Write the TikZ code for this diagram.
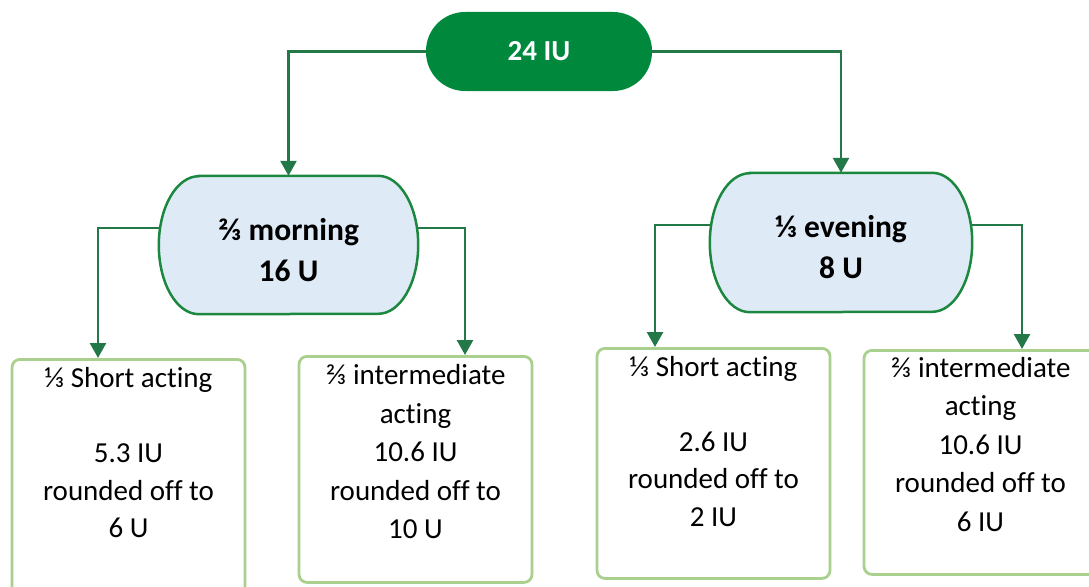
\documentclass[tikz,border=0pt]{standalone}
\usepackage{fontspec}
\setmainfont[Ligatures=CommonOff]{Carlito}
\usetikzlibrary{arrows.meta,calc,backgrounds}
\definecolor{topgreen}{RGB}{0,137,61}
\definecolor{arrgreen}{RGB}{35,120,72}
\definecolor{nodegreen}{RGB}{28,135,62}
\definecolor{lightblue}{RGB}{222,234,246}
\definecolor{boxgreen}{RGB}{169,208,142}
\tikzset{
  conn/.style={draw=arrgreen,line width=2.5pt,-{Triangle[width=16pt,length=15pt]}},
  topnode/.style={fill=topgreen,rounded corners=39pt,minimum width=226pt,minimum height=79pt,inner sep=0pt,text=white,font=\fontsize{29}{35}\selectfont\bfseries},
  midnode/.style={inner sep=0pt,align=center,font=\fontsize{31.5}{41.5}\selectfont\bfseries},
  midshape/.style={draw=nodegreen,line width=2.5pt,fill=lightblue},
  outbox/.style={draw=boxgreen,line width=2.8pt,rounded corners=8pt,inner sep=0pt},
  boxtext/.style={anchor=north,inner sep=0pt,align=center,font=\fontsize{29}{37.5}\selectfont},
  boxtextw/.style={anchor=north,inner sep=0pt,align=center,font=\fontsize{29}{38.5}\selectfont}
}
\begin{document}
\begin{tikzpicture}[x=1pt,y=-1pt]
\useasboundingbox (0,0) rectangle (1089,586);
\clip (0,0) rectangle (1089,586);
\node[topnode] (top) at (539,51.5) {24 IU};
% mid nodes: text centred slightly below the shape centre
\node[midnode,minimum width=259pt,minimum height=138pt] (morn) at (288.5,250) {⅔ morning\\16 U};
\node[midnode,minimum width=262pt,minimum height=139pt] (even) at (841,247) {⅓ evening\\8 U};
\begin{scope}[on background layer]
\path[midshape] ([xshift=40pt,yshift=5pt]morn.north west) -- ([xshift=-40pt,yshift=5pt]morn.north east)
  arc[start angle=90,end angle=-90,x radius=40pt,y radius=69pt]
  -- ([xshift=40pt,yshift=5pt]morn.south west)
  arc[start angle=270,end angle=90,x radius=40pt,y radius=69pt] -- cycle;
\path[midshape] ([xshift=40pt,yshift=4.5pt]even.north west) -- ([xshift=-40pt,yshift=4.5pt]even.north east)
  arc[start angle=90,end angle=-90,x radius=40pt,y radius=69.5pt]
  -- ([xshift=40pt,yshift=4.5pt]even.south west)
  arc[start angle=270,end angle=90,x radius=40pt,y radius=69.5pt] -- cycle;
\end{scope}
\node[outbox,minimum width=233pt,minimum height=250pt,anchor=north] (b1) at (128.5,358) {};
\node[outbox,minimum width=233pt,minimum height=226pt,anchor=north] (b2) at (415.5,355) {};
\node[outbox,minimum width=233pt,minimum height=230pt,anchor=north] (b3) at (713.5,347) {};
\node[outbox,minimum width=233pt,minimum height=224pt,anchor=north] (b4) at (980.5,349) {};
\node[boxtext] (t1) at ([yshift=-9.5pt]b1.north) {⅓ Short acting\\[37.5pt]5.3 IU\\rounded off to\\6 U};
\node[boxtextw] (t2) at ([yshift=-9.5pt]b2.north) {⅔ intermediate\\acting\\10.6 IU\\rounded off to\\10 U};
\node[boxtext] (t3) at ([yshift=-9pt]b3.north) {⅓ Short acting\\[37.5pt]2.6 IU\\rounded off to\\2 IU};
\node[boxtextw] (t4) at ([yshift=-8pt]b4.north) {⅔ intermediate\\acting\\10.6 IU\\rounded off to\\6 IU};
\draw[conn] (top.west) -| ([yshift=5pt]morn.north);
\draw[conn] (top.east) -| ([yshift=4.5pt]even.north);
\draw[conn] ([yshift=22pt]morn.west) -| ([xshift=-30.5pt]b1.north);
\draw[conn] ([yshift=22pt]morn.east) -| ([xshift=49.5pt]b2.north);
\draw[conn] ([yshift=22pt]even.west) -| ([xshift=-58.5pt]b3.north);
\draw[conn] ([yshift=22pt]even.east) -| ([xshift=41.5pt]b4.north);
\end{tikzpicture}
\end{document}
